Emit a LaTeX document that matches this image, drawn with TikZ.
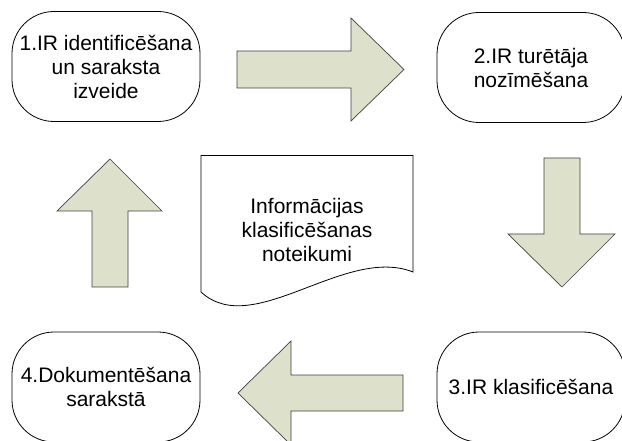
\documentclass[tikz,border=0pt]{standalone}
\usepackage{fontspec}
\setmainfont{Liberation Sans}
\definecolor{arrowfill}{RGB}{221,224,203}
\definecolor{arrowline}{RGB}{64,64,64}

\begin{document}
\begin{tikzpicture}[x = 1pt, y = -1pt,
    stage/.style = {shape = rectangle, draw, rounded corners = 42pt, inner sep = 2pt,
        minimum width = 188pt, minimum height = 110pt, align = center,
        font = \fontsize{21}{24}\selectfont, line width = 0.8pt},
    blockarrow/.style = {draw = arrowline, fill = arrowfill, line width = 0.7pt}]
    \useasboundingbox (0,0) rectangle (622,441);
    \clip (0,0) rectangle (622,441);
    \node [stage] (S1) at (106,66.5) {1.IR identificēšana\\un saraksta\\izveide};
    \node [stage] (S2) at (531,67.5) {2.IR turētāja\\nozīmēšana};
    \node [stage] (S3) at (531,387) {3.IR klasificēšana};
    \node [stage] (S4) at (106,387) {4.Dokumentēšana\\sarakstā};
    \draw [line width = 0.8pt] (201,155.5) -- (413,155.5) -- (413,272)
        .. controls (345,245) and (253,340) .. (201,292) -- cycle;
    \node [align = center, font = \fontsize{21}{24}\selectfont] (R) at (307,230)
        {Informācijas\\klasificēšanas\\noteikumi};
    \draw [blockarrow] (237,51) -- (351,51) -- (351,18) -- (404,69.5) -- (351,121) -- (351,88) -- (237,88) -- cycle;
    \draw [blockarrow] (544,158) -- (580,158) -- (580,234) -- (615,234) -- (562,287) -- (508,234) -- (544,234) -- cycle;
    \draw [blockarrow] (403,375) -- (291,375) -- (291,341) -- (238,393) -- (291,445) -- (291,411) -- (403,411) -- cycle;
    \draw [blockarrow] (92,287) -- (92,211) -- (57,211) -- (110,159) -- (162,211) -- (128,211) -- (128,287) -- cycle;
\end{tikzpicture}
\end{document}
